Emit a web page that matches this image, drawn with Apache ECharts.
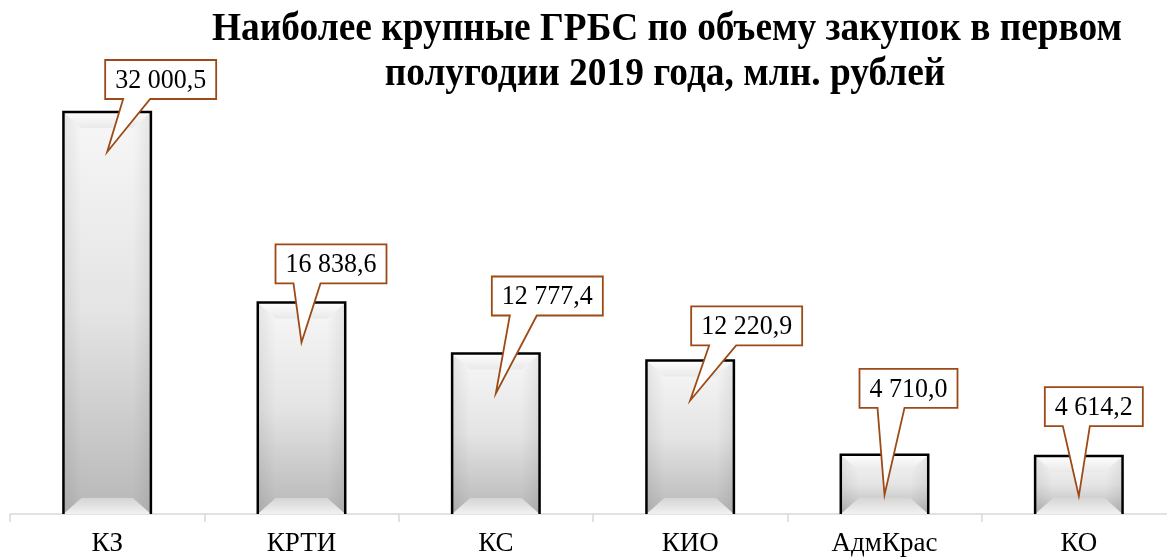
<!DOCTYPE html>
<html>
<head>
<meta charset="utf-8">
<script src="https://cdn.jsdelivr.net/npm/echarts@6/dist/echarts.min.js"></script>
<style>
	html, body {margin:0; padding:0; background:#fff;}
	#chart {width:1167px; height:558px;}
</style>
</head>
<body>
<div id="chart"></div>
<script>
// данные
var categories = ['КЗ', 'КРТИ', 'КС', 'КИО', 'АдмКрас', 'КО'];
var values = [32000.5, 16838.6, 12777.4, 12220.9, 4710.0, 4614.2];

// смещения выносок относительно вершины столбца (px)
var calloutDx = [-2, -26, -4, 1, -25, -34];
var calloutDy = [-13, -19, -38, -15, -47, -30];

var titleLines = ['Наиболее крупные ГРБС по объему закупок в первом', 'полугодии 2019 года, млн. рублей'];

var labelFont = '26px "Liberation Serif"';
var measureCtx = document.createElement('canvas').getContext('2d');
measureCtx.font = labelFont;

function formatValue(v) {
	var parts = v.toFixed(1).split('.');
	var intPart = parts[0].replace(/\B(?=(\d{3})+(?!\d))/g, ' ');
	return intPart + ',' + parts[1];
}

function renderBar(params, api) {
	var idx = api.value(0);
	var val = api.value(1);
	var top = api.coord([idx, val]);
	var base = api.coord([idx, 0]);
	var bw = api.size([1, 0])[0] * 0.45;
	var x0 = top[0] - bw / 2, x1 = top[0] + bw / 2;
	var y0 = top[1], y1 = base[1];
	var h = y1 - y0;
	var bx = 18;
	var by = Math.min(16, h * 0.3);
	return {
		type: 'group',
		children: [
			{
				type: 'rect',
				shape: {x: x0, y: y0, width: bw, height: h},
				style: {
					fill: new echarts.graphic.LinearGradient(0, 0, 0, 1, [
						{offset: 0, color: '#f7f7f7'},
						{offset: 0.5, color: '#e4e4e4'},
						{offset: 1, color: '#b7b7b7'}
					])
				}
			},
			{
				type: 'polygon',
				shape: {points: [[x0, y0], [x0 + bx, y0 + by], [x0 + bx, y1 - by], [x0, y1]]},
				style: {
					fill: new echarts.graphic.LinearGradient(0, 0, 1, 0, [
						{offset: 0, color: 'rgba(0,0,0,0.07)'},
						{offset: 1, color: 'rgba(0,0,0,0.0)'}
					])
				}
			},
			{
				type: 'polygon',
				shape: {points: [[x1, y0], [x1 - bx, y0 + by], [x1 - bx, y1 - by], [x1, y1]]},
				style: {
					fill: new echarts.graphic.LinearGradient(1, 0, 0, 0, [
						{offset: 0, color: 'rgba(0,0,0,0.07)'},
						{offset: 1, color: 'rgba(0,0,0,0.0)'}
					])
				}
			},
			{
				type: 'polygon',
				shape: {points: [[x0, y0], [x1, y0], [x1 - bx, y0 + by], [x0 + bx, y0 + by]]},
				style: {
					fill: new echarts.graphic.LinearGradient(0, 0, 0, 1, [
						{offset: 0, color: 'rgba(255,255,255,0.95)'},
						{offset: 1, color: 'rgba(232,232,232,0.9)'}
					])
				}
			},
			{
				type: 'polygon',
				shape: {points: [[x0, y1], [x1, y1], [x1 - bx, y1 - by], [x0 + bx, y1 - by]]},
				style: {
					fill: new echarts.graphic.LinearGradient(0, 0, 0, 1, [
						{offset: 0, color: 'rgba(215,215,215,0.9)'},
						{offset: 1, color: 'rgba(245,245,245,0.95)'}
					])
				}
			},
			{
				type: 'polyline',
				shape: {points: [[x0, y1], [x0, y0], [x1, y0], [x1, y1]]},
				style: {stroke: '#000', lineWidth: 2.5, fill: null}
			}
		]
	};
}

function renderCallout(params, api) {
	var i = params.dataIndex;
	var idx = api.value(0);
	var val = api.value(1);
	var top = api.coord([idx, val]);
	var text = formatValue(val);
	var w = Math.round(measureCtx.measureText(text).width) + 20;
	var bh = 39;
	var L = top[0] + calloutDx[i];
	var B = top[1] + calloutDy[i];
	var T = B - bh;
	var R = L + w;
	var tip = [top[0], top[1] + 40];
	return {
		type: 'group',
		children: [
			{
				type: 'polygon',
				shape: {points: [[L, T], [R, T], [R, B], [L + 45, B], tip, [L + 18, B], [L, B]]},
				style: {fill: '#fff', stroke: '#9c4a17', lineWidth: 1.8}
			},
			{
				type: 'text',
				x: (L + R) / 2, y: (T + B) / 2 + 1, scaleY: 1.08,
				style: {
					text: text,
					align: 'center', verticalAlign: 'middle',
					font: labelFont, fill: '#000'
				}
			}
		]
	};
}

var chartData = values.map(function(v, i) { return [i, v]; });

var myChart = echarts.init(document.getElementById('chart'));
var option = {
	animation: false,
	backgroundColor: '#fff',
	graphic: [
		{
			type: 'text', x: 667, y: 30, scaleX: 0.935,
			style: {text: titleLines[0], font: 'bold 40px "Liberation Serif"', fill: '#000', align: 'center', verticalAlign: 'middle'}
		},
		{
			type: 'text', x: 665, y: 75, scaleX: 0.935,
			style: {text: titleLines[1], font: 'bold 40px "Liberation Serif"', fill: '#000', align: 'center', verticalAlign: 'middle'}
		}
	],
	grid: {left: 10, width: 1166, top: 11.5, bottom: 44, outerBoundsMode: 'none', containLabel: false},
	xAxis: {
		type: 'category',
		data: categories,
		axisLine: {lineStyle: {color: '#d9d9d9', width: 1.5}},
		axisTick: {show: true, length: 8, lineStyle: {color: '#d9d9d9', width: 1.5}},
		axisLabel: {color: '#000', fontFamily: 'Liberation Serif', fontSize: 27, margin: 16}
	},
	yAxis: {type: 'value', min: 0, max: 40000, show: false},
	series: [
		{type: 'custom', renderItem: renderBar, data: chartData, clip: false, z: 2},
		{type: 'custom', renderItem: renderCallout, data: chartData, clip: false, z: 3}
	]
};
myChart.setOption(option);
</script>
</body>
</html>
